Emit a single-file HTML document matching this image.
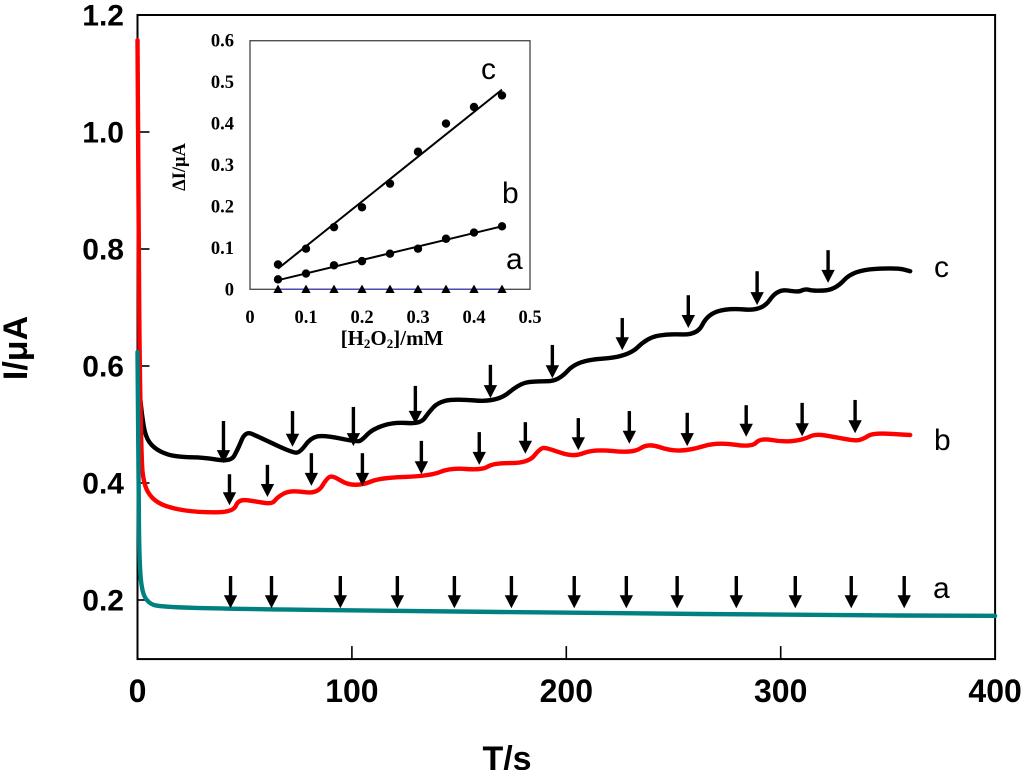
<!DOCTYPE html>
<html lang="en">
<head>
<meta charset="utf-8">
<title>Amperometric response chart</title>
<style>
html,body{margin:0;padding:0;background:#fff;}
svg{display:block;}
text{fill:#000;}
.main{font-family:"Liberation Sans",Arial,sans-serif;font-weight:bold;}
.inset{font-family:"Liberation Serif","Times New Roman",serif;font-weight:bold;}
.letter{font-family:"Liberation Sans",Arial,sans-serif;font-size:30px;}
</style>
</head>
<body>
<svg id="chart" width="1024" height="770" viewBox="0 0 1024 770" xmlns="http://www.w3.org/2000/svg">
  <text class="main" font-size="34" text-anchor="middle" transform="translate(27,348) rotate(-90)">I/μA</text>
  <text class="main" font-size="34" text-anchor="middle" x="507" y="770">T/s</text>
  <text class="letter" x="934" y="277">c</text>
  <text class="letter" x="934" y="450">b</text>
  <text class="letter" x="933" y="598">a</text>
  <text class="inset" font-size="18.5" text-anchor="middle" transform="translate(185,167) rotate(-90)">ΔI/μA</text>
  <text class="inset" font-size="21" text-anchor="middle" x="392" y="345">[H<tspan font-size="13" dy="3">2</tspan><tspan dy="-3">O</tspan><tspan font-size="13" dy="3">2</tspan><tspan dy="-3">]/mM</tspan></text>
  <text class="letter" x="481" y="79">c</text>
  <text class="letter" x="502" y="203">b</text>
  <text class="letter" x="506" y="269">a</text>
</svg>
<script>
// Main chart: x ticks, y ticks
const xTicks = [0, 100, 200, 300, 400];
const yTicks = [0.2, 0.4, 0.6, 0.8, 1.0, 1.2];
// Main chart: curve c
const timeC = [0.5,0.9,1.9,3.7,7.5,14,21.4,30.3,43.4,46.6,50.3,56.4,72.7,76,80.7,86.7,102.6,104.9,109.6,119.3,131.9,135.7,139.9,147.3,167.8,178.6,186.5,196.3,205.1,228.4,237.8,247.1,261.1,265.7,275,291.4,298.4,308.2,311.4,315.2,325.4,333.8,354.3,360.4];
const currentC = [0.627,0.559,0.520,0.479,0.460,0.448,0.444,0.444,0.436,0.456,0.489,0.479,0.451,0.453,0.477,0.482,0.470,0.474,0.492,0.504,0.501,0.520,0.537,0.544,0.538,0.571,0.574,0.574,0.610,0.615,0.648,0.655,0.653,0.687,0.699,0.694,0.732,0.726,0.732,0.728,0.730,0.764,0.768,0.762];
// Main chart: curve b
const timeB = [0,0.5,0.9,1.9,2.8,4.7,9.3,16.8,28,44.8,47.1,55.9,62.9,65.3,71.3,83.9,88.6,91.4,97.9,105.4,113.3,136.6,145.9,160.8,166,182.3,187.9,191.1,203.3,212.6,231.2,238.2,248.5,257.8,270.4,286.7,290.4,301.2,310.5,316.1,324.5,334.7,338.5,343.1,360.4];
const currentB = [1.157,0.884,0.627,0.434,0.405,0.383,0.366,0.356,0.350,0.350,0.373,0.368,0.364,0.376,0.388,0.381,0.410,0.412,0.397,0.397,0.409,0.412,0.426,0.422,0.434,0.434,0.460,0.460,0.444,0.458,0.451,0.468,0.455,0.456,0.470,0.461,0.477,0.470,0.474,0.484,0.479,0.472,0.475,0.486,0.482];
// Main chart: curve a
const timeA = [0,0.5,0.9,1.9,4.7,10.7,43.4,122.6,215.9,309.1,400];
const currentA = [0.624,0.371,0.268,0.217,0.195,0.188,0.185,0.181,0.178,0.174,0.173];
// Injection arrows: time, current at the tip, current at the tail
const arrowTimeC = [40.1,72.3,100.7,129.6,164.6,193.5,226.1,256.9,289,322.1];
const arrowTipC = [0.434,0.462,0.463,0.501,0.545,0.579,0.627,0.665,0.704,0.742];
const arrowTailC = [0.506,0.523,0.530,0.566,0.602,0.636,0.682,0.721,0.762,0.798];
const arrowTimeB = [42.9,60.6,81.1,104.9,132.4,159.4,180.9,205.6,229.4,256.4,283.9,310,334.7];
const arrowTipB = [0.362,0.376,0.395,0.395,0.415,0.431,0.450,0.456,0.467,0.463,0.479,0.480,0.485];
const arrowTailB = [0.415,0.431,0.451,0.451,0.472,0.487,0.504,0.511,0.523,0.520,0.533,0.537,0.542];
const arrowTimeA = [43.4,62.5,94.6,121.2,147.8,174.4,203.7,228,251.7,279.3,306.8,332.9,357.6];
const arrowTipA = [0.186,0.186,0.186,0.186,0.186,0.186,0.186,0.186,0.186,0.186,0.186,0.186,0.186];
const arrowTailA = [0.241,0.241,0.241,0.241,0.241,0.241,0.241,0.241,0.241,0.241,0.241,0.241,0.241];
// Inset chart
const insetXTicks = [0, 0.1, 0.2, 0.3, 0.4, 0.5];
const insetYTicks = [0, 0.1, 0.2, 0.3, 0.4, 0.5, 0.6];
const insetConc = [0.05,0.1,0.15,0.2,0.25,0.3,0.35,0.4,0.45];
const insetC = [0.06,0.098,0.15,0.198,0.255,0.332,0.4,0.44,0.468];
const insetB = [0.024,0.038,0.058,0.068,0.086,0.098,0.122,0.137,0.152];
const insetA = [0,0,0,0,0,0,0,0,0];
const fitConc = [0.05,0.45];
const fitC = [0.05,0.482];
const fitB = [0.022,0.152];

const NS = 'http://www.w3.org/2000/svg';
const svg = document.getElementById('chart');
const X = t => 137.5 + t * 2.144;
const Y = v => 15 + (1.2 - v) * 585;
const IX = c => 250 + c * 560;
const IY = v => 289.3 - v * 414.3;
function make(tag, attrs) {
  const el = document.createElementNS(NS, tag);
  for (const k in attrs) el.setAttribute(k, attrs[k]);
  svg.appendChild(el);
  return el;
}
function label(txt, cls, size, anchor, x, y) {
  const el = make('text', {class: cls, 'font-size': size, 'text-anchor': anchor, x: x, y: y});
  el.textContent = txt;
  return el;
}
function pts(xs, ys, fx, fy) {
  return xs.map((x, i) => fx(x).toFixed(1) + ',' + fy(ys[i]).toFixed(1)).join(' ');
}
// Rounded path through the midpoints between successive samples
function smoothPath(xs, ys) {
  const p = xs.map((t, i) => [X(t), Y(ys[i])]);
  let d = 'M' + p[0][0].toFixed(1) + ' ' + p[0][1].toFixed(1);
  for (let i = 1; i < p.length - 1; i++) {
    const mx = (p[i][0] + p[i + 1][0]) / 2, my = (p[i][1] + p[i + 1][1]) / 2;
    d += ' Q' + p[i][0].toFixed(1) + ' ' + p[i][1].toFixed(1) + ' ' + mx.toFixed(1) + ' ' + my.toFixed(1);
  }
  const last = p[p.length - 1];
  d += ' L' + last[0].toFixed(1) + ' ' + last[1].toFixed(1);
  return d;
}

// Main plot frame
const frame = make('rect', {x: X(0), y: Y(1.2), width: X(400) - X(0), height: Y(0.099) - Y(1.2), fill: 'none', stroke: '#000', 'stroke-width': 2});



xTicks.forEach(t => {
  if (t > 0 && t < 400) {
    const tick = make('line', {x1: X(t), x2: X(t), y1: Y(0.099), y2: Y(0.099) - 13, stroke: '#000', 'stroke-width': 1.6});
    
    
  }
  const tl = label(String(t), 'main', 32, 'middle', X(t), 702);
  
  
});
yTicks.forEach(v => {
  if (v < 1.2) {
    const tick = make('line', {x1: X(0), x2: X(0) + 12, y1: Y(v), y2: Y(v), stroke: '#000', 'stroke-width': 1.6});
    
    
  }
  const tl = label(v.toFixed(1), 'main', 30, 'end', 124, Y(v) + 10.5);
  
  
});

// Curves
function curve(ts, vs, color, name) {
  const el = make('path', {d: smoothPath(ts, vs), fill: 'none', stroke: color, 'stroke-width': 4.4, 'stroke-linejoin': 'round', 'stroke-linecap': 'round'});
  
  
}
curve(timeC, currentC, '#000000', 'curve-c');
curve(timeB, currentB, '#ff0000', 'curve-b');
curve(timeA, currentA, '#008080', 'curve-a');

// Arrows
function arrows(ts, tips, tails, name) {
  ts.forEach((t, i) => {
    const x = X(t), tip = Y(tips[i]), tail = Y(tails[i]);
    const g = make('g', {});
    
    
    const shaft = document.createElementNS(NS, 'line');
    shaft.setAttribute('x1', x); shaft.setAttribute('x2', x);
    shaft.setAttribute('y1', tail); shaft.setAttribute('y2', tip - 10);
    shaft.setAttribute('stroke', '#000'); shaft.setAttribute('stroke-width', 3.4);
    g.appendChild(shaft);
    const head = document.createElementNS(NS, 'polygon');
    head.setAttribute('points', (x - 6.7) + ',' + (tip - 13) + ' ' + (x + 6.7) + ',' + (tip - 13) + ' ' + x + ',' + tip);
    head.setAttribute('fill', '#000');
    g.appendChild(head);
  });
}
arrows(arrowTimeC, arrowTipC, arrowTailC, 'injection-arrow-c');
arrows(arrowTimeB, arrowTipB, arrowTailB, 'injection-arrow-b');
arrows(arrowTimeA, arrowTipA, arrowTailA, 'injection-arrow-a');

// Inset
const iframe = make('rect', {x: IX(0), y: IY(0.6), width: IX(0.5) - IX(0), height: IY(0) - IY(0.6), fill: 'none', stroke: '#444', 'stroke-width': 1.3});


insetXTicks.forEach(c => {
  const tl = label(c === 0 ? '0' : c.toFixed(1), 'inset', 18.5, 'middle', IX(c), 323);
  
  
});
insetYTicks.forEach(v => {
  const tl = label(v === 0 ? '0' : v.toFixed(1), 'inset', 18.5, 'end', 234, IY(v) + 6);
  
  
});
const lineA = make('polyline', {points: pts(insetConc, insetA, IX, IY), fill: 'none', stroke: '#4a4ab0', 'stroke-width': 1.5});


const lineC = make('polyline', {points: pts(fitConc, fitC, IX, IY), fill: 'none', stroke: '#000', 'stroke-width': 2});


const lineB = make('polyline', {points: pts(fitConc, fitB, IX, IY), fill: 'none', stroke: '#000', 'stroke-width': 2});


insetConc.forEach((c, i) => {
  const pc = make('circle', {cx: IX(c), cy: IY(insetC[i]), r: 4.2, fill: '#000'});
  
  
  const pb = make('circle', {cx: IX(c), cy: IY(insetB[i]), r: 4.2, fill: '#000'});
  
  
  const x = IX(c), y = IY(insetA[i]);
  const pa = make('polygon', {points: (x - 4.7) + ',' + (y + 3.7) + ' ' + (x + 4.7) + ',' + (y + 3.7) + ' ' + x + ',' + (y - 4.7), fill: '#000'});
  
  
});
</script>
</body>
</html>
